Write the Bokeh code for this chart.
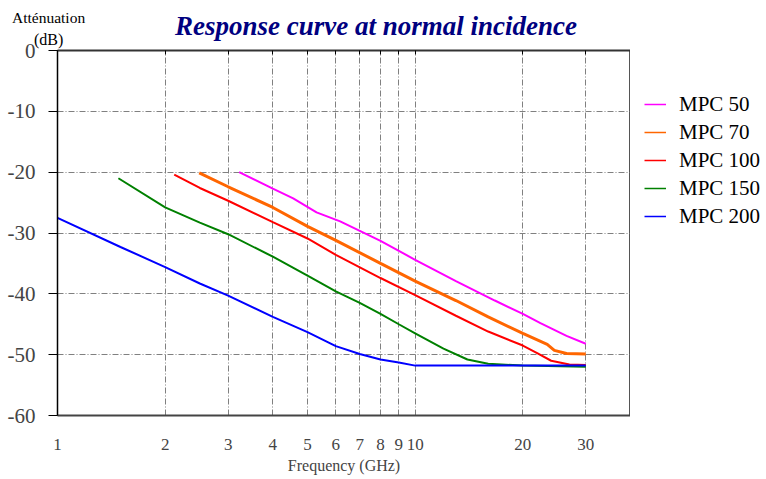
from bokeh.plotting import figure
from bokeh.models import (FixedTicker, LogAxis, Legend, LegendItem, Div,
                          CustomJSTickFormatter, Range1d)
from bokeh.layouts import column, row
from bokeh.embed import file_html
from bokeh.resources import INLINE

# ---- data ----
f_50 = [3.22, 4, 4.56, 5.3, 6.17, 8, 10, 13, 16.7, 20, 22.4, 26.5, 30]
db_50 = [-20, -22.7, -24.3, -26.6, -28.1, -31.3, -34.4, -37.9, -41.1, -43.3, -44.8, -46.9, -48.2]

f_70 = [2.49, 3, 4, 5, 6, 8, 10, 13, 16, 20, 23.4, 24.5, 26.5, 30]
db_70 = [-20.1, -22.4, -25.8, -28.9, -31.2, -35.0, -37.9, -41.1, -43.8, -46.5, -48.3, -49.3, -49.8, -49.9]

f_100 = [2.12, 2.5, 3, 4, 5, 6, 8, 10, 13, 16, 20, 22, 24, 27, 30]
db_100 = [-20.4, -22.6, -24.7, -28.2, -30.9, -33.6, -37.4, -40.2, -43.6, -46.2, -48.5, -49.8, -51.0, -51.6, -51.7]

f_150 = [1.48, 2, 2.5, 3, 4, 5, 6, 7, 8, 9, 10, 12, 14, 16, 20, 30]
db_150 = [-21.0, -25.8, -28.3, -30.2, -33.9, -37.0, -39.6, -41.5, -43.3, -45.0, -46.5, -49.0, -50.8, -51.5, -51.8, -52.0]

f_200 = [1, 1.5, 2, 2.5, 3, 4, 5, 6, 7, 8, 9, 10, 15, 20, 30]
db_200 = [-27.5, -32.3, -35.6, -38.3, -40.3, -43.8, -46.3, -48.6, -49.9, -50.8, -51.3, -51.8, -51.8, -51.8, -51.8]

series_names = ["MPC 50", "MPC 70", "MPC 100", "MPC 150", "MPC 200"]
series_f = [f_50, f_70, f_100, f_150, f_200]
series_db = [db_50, db_70, db_100, db_150, db_200]
series_colors = ["#FF00FF", "#FF6600", "#FF0000", "#008000", "#0000FF"]
series_widths = [2, 3, 2, 2, 2]

x_ticks = [1, 2, 3, 4, 5, 6, 7, 8, 9, 10, 20, 30]
x_grid = [2, 3, 4, 5, 6, 7, 8, 9, 10, 20, 30]
y_ticks = [-60, -50, -40, -30, -20, -10, 0]
y_grid = [-50, -40, -30, -20, -10]

title_text = "Response curve at normal incidence"
y_title = "Atténuation"
y_unit = "(dB)"
x_title = "Frequency (GHz)"

SERIF = "Liberation Serif"
H_HEAD, H_MAIN = 38, 441
W_MAIN, W_LEG = 630, 136

# ---- header (title and y-axis caption) ----
span = ("position:absolute;white-space:nowrap;line-height:1;margin:0;padding:0;"
        "font-family:'Liberation Serif';")
head_html = (
    f"<div style='position:relative;width:{W_MAIN + W_LEG}px;height:{H_HEAD}px;overflow:visible;'>"
    f"<span style=\"{span}left:175px;top:13px;font-size:27px;font-weight:bold;"
    f"font-style:italic;color:#000080;\">{title_text}</span>"
    f"<span style=\"{span}left:12px;top:10px;font-size:15.5px;color:black;\">{y_title}</span>"
    f"<span style=\"{span}left:34px;top:32px;font-size:16px;color:black;\">{y_unit}</span>"
    "</div>")
head = Div(text=head_html, width=W_MAIN + W_LEG, height=H_HEAD,
           styles={"margin": "0", "padding": "0", "overflow": "visible", "z-index": "5"})

# ---- main chart ----
p = figure(width=W_MAIN, height=H_MAIN, x_axis_type="log", output_backend="svg",
           toolbar_location=None, x_range=Range1d(1, 40), y_range=Range1d(-60, 0),
           min_border_left=57, min_border_right=0, min_border_top=12,
           min_border_bottom=64)
p.border_fill_alpha = 0

renderers = []
for f, d, c, w in zip(series_f, series_db, series_colors, series_widths):
    renderers.append(p.line(f, d, line_color=c, line_width=w))

for g in (p.xgrid, p.ygrid):
    g.grid_line_color = "#808080"
    g.grid_line_dash = "6 2 1 2"
    g.grid_line_width = 1
p.xgrid.ticker = FixedTicker(ticks=x_grid)
p.ygrid.ticker = FixedTicker(ticks=y_grid)

xa = p.xaxis[0]
xa.ticker = FixedTicker(ticks=x_ticks)
xa.formatter = CustomJSTickFormatter(code="return tick.toFixed(0);")
xa.major_label_text_font = SERIF
xa.major_label_text_font_size = "17px"
xa.major_tick_line_color = None
xa.major_tick_out = 0
xa.minor_tick_line_color = None
xa.major_label_standoff = 23
xa.axis_line_color = "#444444"
xa.axis_line_width = 2
xa.axis_label = x_title
xa.axis_label_text_font = SERIF
xa.axis_label_text_font_size = "16px"
xa.axis_label_text_font_style = "normal"
xa.axis_label_standoff = 4

ya = p.yaxis[0]
ya.ticker = FixedTicker(ticks=y_ticks)
ya.formatter = CustomJSTickFormatter(code="return tick.toFixed(0);")
ya.major_label_text_font = SERIF
ya.major_label_text_font_size = "21px"
ya.major_tick_out = 9
ya.major_tick_in = 0
ya.minor_tick_line_color = None
ya.major_label_standoff = 13
ya.axis_line_color = "black"
ya.axis_line_width = 1.5

top = LogAxis(ticker=FixedTicker(ticks=x_ticks + [40]),
              formatter=CustomJSTickFormatter(code="return '';"),
              major_tick_in=4, major_tick_out=0, minor_tick_line_color=None,
              axis_line_color="#333333", axis_line_width=2, major_label_standoff=0)
p.add_layout(top, "above")

p.outline_line_color = "#555555"
p.outline_line_width = 1

# ---- legend panel (to the right of the frame) ----
leg = figure(width=W_LEG, height=H_MAIN, output_backend="svg", toolbar_location=None,
             x_range=Range1d(0, 1), y_range=Range1d(0, 1),
             min_border_left=0, min_border_right=0, min_border_top=12, min_border_bottom=64,
             x_axis_location=None, y_axis_location=None, outline_line_color=None)
leg.grid.visible = False
leg.border_fill_alpha = 0
leg.background_fill_alpha = 0
# same series, drawn outside this panel's ranges: only their legend glyphs show
leg_renderers = [leg.line(f, d, line_color=c, line_width=1.5)
                 for f, d, c in zip(series_f, series_db, series_colors)]
legend = Legend(items=[LegendItem(label=n, renderers=[r]) for n, r in zip(series_names, leg_renderers)],
                location=(14, 185), glyph_width=22, glyph_height=28, spacing=0,
                label_standoff=13, padding=0, margin=0, border_line_color=None,
                background_fill_alpha=0, label_text_font=SERIF, label_text_font_size="21px",
                label_text_color="black", label_text_baseline="middle")
leg.add_layout(legend, "center")

layout = column(head, row(p, leg, spacing=0), spacing=0)
open("out.html", "w").write(file_html(layout, INLINE))
